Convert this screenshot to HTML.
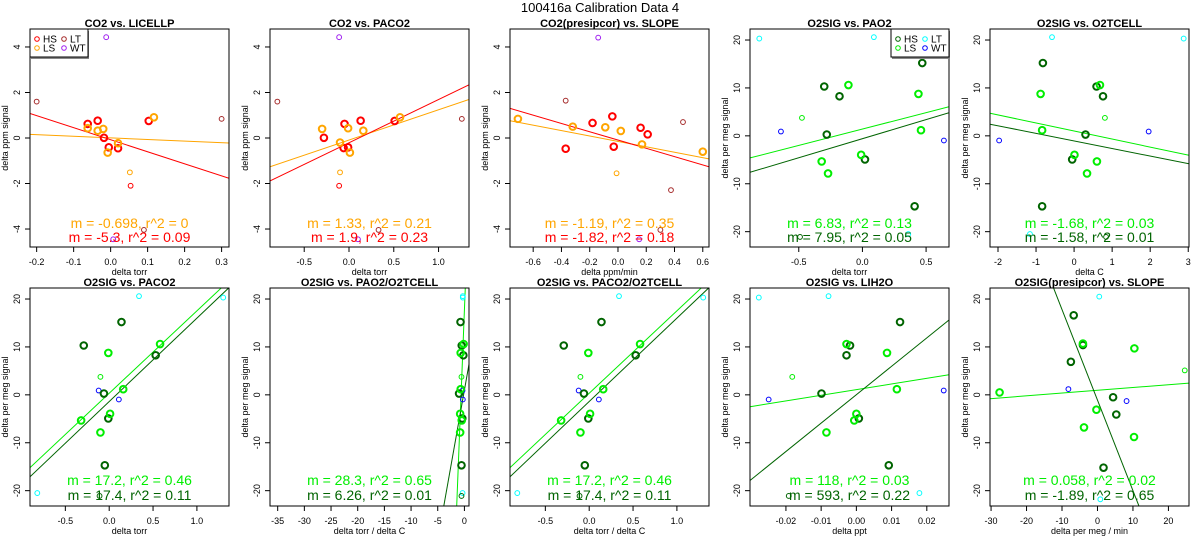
<!DOCTYPE html>
<html><head><meta charset="utf-8"><style>
html,body{margin:0;padding:0;background:#fff;width:1200px;height:550px;overflow:hidden;}
svg{display:block;font-family:"Liberation Sans",sans-serif;position:absolute;left:0;top:0;}
</style></head><body>
<svg id="chart" width="1200" height="550" viewBox="0 0 1200 550">
<text x="600" y="12" text-anchor="middle" font-size="13">100416a   Calibration Data 4</text>
</svg>
<script>
// ---------- shared O2SIG values ----------
const o2HsY=[10.3,8.26,0.27,-4.93,-14.7,15.2];
const o2LsY=[10.6,8.75,-5.35,-7.85,-3.96,1.18];
const o2ThinY=[3.75,20.3,20.6,-20.5,-21.1,0.9,-0.97];
const o2ThinG=['LS','LT','LT','LT','HS','WT','WT'];
const co2ThinG=['HS','LS','LT','LT','LT','WT','WT'];
const co2ThinY=[-2.10,-1.51,1.60,0.84,-4.04,4.43,-4.45];
// ---------- panel 1 CO2 vs LICELLP ----------
const p1HsX=[-0.062,-0.035,-0.018,-0.005,0.020,0.103];
const p1HsY=[0.62,0.76,0.01,-0.41,-0.45,0.75];
const p1LsX=[-0.062,-0.035,-0.02,-0.008,0.020,0.117];
const p1LsY=[0.43,0.32,0.40,-0.64,-0.23,0.91];
const p1ThinX=[0.054,0.052,-0.2,0.30,0.09,-0.012,0.007];
const p1Slopes=[-0.698,-5.3];const p1Ints=[0.006,-0.076];const p1R2=[0,0.09];
const p1Ticks=[-0.2,-0.1,0,0.1,0.2,0.3];const p1TickLabels=['-0.2','-0.1','0.0','0.1','0.2','0.3'];
// ---------- panel 2 CO2 vs PACO2 ----------
const p2HsX=[-0.28,-0.05,-0.06,-0.01,0.13,0.51];
const p2HsY=[0.01,0.62,-0.44,-0.41,0.76,0.75];
const p2LsX=[-0.30,-0.10,-0.01,0.01,0.16,0.57];
const p2LsY=[0.40,-0.20,0.43,-0.64,0.32,0.91];
const p2ThinX=[-0.11,-0.10,-0.80,1.26,0.33,-0.11,0.10];
const p2Slopes=[1.33,1.9];const p2Ints=[-0.09,-0.21];const p2R2=[0.21,0.23];
const p2Ticks=[-0.5,0,0.5,1.0];const p2TickLabels=['-0.5','0.0','0.5','1.0'];
// ---------- panel 3 CO2(presipcor) vs SLOPE ----------
const p3HsX=[-0.37,-0.18,-0.04,-0.03,0.16,0.21];
const p3HsY=[-0.47,0.66,0.95,-0.38,0.45,0.16];
const p3LsX=[-0.708,-0.32,-0.09,0.02,0.17,0.60];
const p3LsY=[0.84,0.50,0.47,0.31,-0.28,-0.60];
const p3ThinX=[-0.01,-0.37,0.46,0.375,0.30,-0.14,0.15];
const p3ThinY=[-1.55,1.64,0.70,-2.29,-4.04,4.41,-4.45];
const p3ThinG=['LS','LT','LT','LT','LT','WT','WT'];
const p3Slopes=[-1.19,-1.82];const p3Ints=[-0.15,-0.09];const p3R2=[0.35,0.18];
const p3Ticks=[-0.6,-0.4,-0.2,0,0.2,0.4,0.6];const p3TickLabels=['-0.6','-0.4','-0.2','0.0','0.2','0.4','0.6'];
// ---------- panel 4 O2SIG vs PAO2 ----------
const p4HsX=[-0.30,-0.18,-0.28,0.02,0.41,0.47];
const p4LsX=[-0.11,0.44,-0.32,-0.27,-0.01,0.46];
const p4ThinX=[-0.475,-0.81,0.09,0.36,-0.49,-0.64,0.64];
const p4Slopes=[6.83,7.95];const p4Ints=[1.42,-0.59];const p4R2=[0.13,0.05];
const p4Ticks=[-0.5,0,0.5];const p4TickLabels=['-0.5','0.0','0.5'];
// ---------- panel 5 O2SIG vs O2TCELL ----------
const p5HsX=[0.59,0.76,0.30,-0.05,-0.84,-0.82];
const p5LsX=[0.68,-0.88,0.60,0.34,0.01,-0.84];
const p5ThinX=[0.81,2.88,-0.58,-1.16,0.84,1.96,-1.97];
const p5Slopes=[-1.68,-1.58];const p5Ints=[1.01,-1.06];const p5R2=[0.03,0.01];
const p5Ticks=[-2,-1,0,1,2,3];const p5TickLabels=['-2','-1','0','1','2','3'];
// ---------- panel 6 O2SIG vs PACO2 ----------
const p6HsX=[-0.29,0.53,-0.06,-0.01,-0.05,0.14];
const p6LsX=[0.58,-0.01,-0.32,-0.10,0.01,0.16];
const p6ThinX=[-0.10,1.30,0.34,-0.82,-0.11,-0.12,0.11];
const p6Slopes=[17.2,17.4];const p6Ints=[0.33,-1.39];const p6R2=[0.46,0.11];
const p6Ticks=[-0.5,0,0.5,1.0];const p6TickLabels=['-0.5','0.0','0.5','1.0'];
// ---------- panel 7 O2SIG vs PAO2/O2TCELL ----------
const p7HsX=[-0.5,-0.2,-1.0,-0.4,-0.55,-0.73];
const p7LsX=[-0.15,-0.7,-0.5,-0.8,-0.8,-0.7];
const p7ThinX=[-0.55,-0.3,-0.3,-0.35,-0.55,-0.35,-0.3];
const p7Slopes=[28.3,6.26];const p7Ints=[17.7,1.0];const p7R2=[0.65,0.01];
const p7Ticks=[-35,-30,-25,-20,-15,-10,-5,0];const p7TickLabels=['-35','-30','-25','-20','-15','-10','-5','0'];
// ---------- panel 8 O2SIG vs PACO2/O2TCELL ----------
const p8HsX=[-0.29,0.53,-0.06,-0.01,-0.05,0.14];
const p8LsX=[0.58,-0.01,-0.32,-0.10,0.01,0.16];
const p8ThinX=[-0.10,1.30,0.34,-0.82,-0.11,-0.12,0.11];
const p8Slopes=[17.2,17.4];const p8Ints=[0.33,-1.39];const p8R2=[0.46,0.11];
const p8Ticks=[-0.5,0,0.5,1.0];const p8TickLabels=['-0.5','0.0','0.5','1.0'];
// ---------- panel 9 O2SIG vs LIH2O ----------
const p9HsX=[-0.0018,-0.0028,-0.0099,0.0007,0.0092,0.0124];
const p9LsX=[-0.0028,0.0087,-0.0006,-0.0085,0.0,0.0115];
const p9ThinX=[-0.0182,-0.0277,-0.0079,0.0179,-0.0192,0.0248,-0.0249];
const p9Slopes=[118,593];const p9Ints=[1.09,0.03];const p9R2=[0.03,0.22];
const p9Ticks=[-0.02,-0.01,0,0.01,0.02];const p9TickLabels=['-0.02','-0.01','0.00','0.01','0.02'];
// ---------- panel 10 O2SIG(presipcor) vs SLOPE ----------
const p10HsX=[-6.7,-4.1,-7.5,4.4,5.3,1.7];
const p10HsY=[16.6,10.4,6.9,-0.5,-4.1,-15.2];
const p10LsX=[-27.6,-4.1,10.4,-0.3,-3.8,10.3];
const p10LsY=[0.5,10.7,9.7,-3.1,-6.8,-8.8];
const p10ThinX=[24.6,0.5,0.8,-8.2,8.2];
const p10ThinY=[5.1,20.5,-21.8,1.2,-1.3];
const p10ThinG=['LS','LT','LT','WT','WT'];
const p10Slopes=[0.058,-1.89];const p10Ints=[0.95,-1.1];const p10R2=[0.02,0.65];
const p10Ticks=[-30,-20,-10,0,10,20];const p10TickLabels=['-30','-20','-10','0','10','20'];

const co2Yt=[-4,-2,0,2,4];const o2Yt=[-20,-10,0,10,20];
const CO2C={HS:'#ff0000',LS:'#ffa500',LT:'#a52a2a',WT:'#a020f0'};
const O2C={HS:'#006400',LS:'#00ee00',LT:'#00ffff',WT:'#0000ff'};
const NS='http://www.w3.org/2000/svg';
const svg=document.getElementById('chart');
function mk(tag,attrs,parent){const e=document.createElementNS(NS,tag);for(const k in attrs)e.setAttribute(k,attrs[k]);(parent||svg).appendChild(e);return e;}

const panels=[
 {t:'CO2 vs. LICELLP',xl:'delta torr',yl:'delta ppm signal',xlim:[-0.218,0.32],ylim:[-4.79,4.79],yt:co2Yt,xt:p1Ticks,xtl:p1TickLabels,hx:p1HsX,hy:p1HsY,lx:p1LsX,ly:p1LsY,tx:p1ThinX,ty:co2ThinY,tg:co2ThinG,s:p1Slopes,b:p1Ints,r:p1R2,c:CO2C,leg:'left'},
 {t:'CO2 vs. PACO2',xl:'delta torr',yl:'delta ppm signal',xlim:[-0.882,1.34],ylim:[-4.79,4.79],yt:co2Yt,xt:p2Ticks,xtl:p2TickLabels,hx:p2HsX,hy:p2HsY,lx:p2LsX,ly:p2LsY,tx:p2ThinX,ty:co2ThinY,tg:co2ThinG,s:p2Slopes,b:p2Ints,r:p2R2,c:CO2C},
 {t:'CO2(presipcor) vs. SLOPE',xl:'delta ppm/min',yl:'delta ppm signal',xlim:[-0.764,0.644],ylim:[-4.79,4.79],yt:co2Yt,xt:p3Ticks,xtl:p3TickLabels,hx:p3HsX,hy:p3HsY,lx:p3LsX,ly:p3LsY,tx:p3ThinX,ty:p3ThinY,tg:p3ThinG,s:p3Slopes,b:p3Ints,r:p3R2,c:CO2C},
 {t:'O2SIG vs. PAO2',xl:'delta torr',yl:'delta per meg signal',xlim:[-0.883,0.68],ylim:[-23.2,22.3],yt:o2Yt,xt:p4Ticks,xtl:p4TickLabels,hx:p4HsX,hy:o2HsY,lx:p4LsX,ly:o2LsY,tx:p4ThinX,ty:o2ThinY,tg:o2ThinG,s:p4Slopes,b:p4Ints,r:p4R2,c:O2C,leg:'right'},
 {t:'O2SIG vs. O2TCELL',xl:'delta C',yl:'delta per meg signal',xlim:[-2.21,3.02],ylim:[-23.2,22.3],yt:o2Yt,xt:p5Ticks,xtl:p5TickLabels,hx:p5HsX,hy:o2HsY,lx:p5LsX,ly:o2LsY,tx:p5ThinX,ty:o2ThinY,tg:o2ThinG,s:p5Slopes,b:p5Ints,r:p5R2,c:O2C},
 {t:'O2SIG vs. PACO2',xl:'delta torr',yl:'delta per meg signal',xlim:[-0.903,1.366],ylim:[-23.2,22.3],yt:o2Yt,xt:p6Ticks,xtl:p6TickLabels,hx:p6HsX,hy:o2HsY,lx:p6LsX,ly:o2LsY,tx:p6ThinX,ty:o2ThinY,tg:o2ThinG,s:p6Slopes,b:p6Ints,r:p6R2,c:O2C},
 {t:'O2SIG vs. PAO2/O2TCELL',xl:'delta torr / delta C',yl:'delta per meg signal',xlim:[-36.44,0.86],ylim:[-23.2,22.3],yt:o2Yt,xt:p7Ticks,xtl:p7TickLabels,hx:p7HsX,hy:o2HsY,lx:p7LsX,ly:o2LsY,tx:p7ThinX,ty:o2ThinY,tg:o2ThinG,s:p7Slopes,b:p7Ints,r:p7R2,c:O2C},
 {t:'O2SIG vs. PACO2/O2TCELL',xl:'delta torr / delta C',yl:'delta per meg signal',xlim:[-0.903,1.366],ylim:[-23.2,22.3],yt:o2Yt,xt:p8Ticks,xtl:p8TickLabels,hx:p8HsX,hy:o2HsY,lx:p8LsX,ly:o2LsY,tx:p8ThinX,ty:o2ThinY,tg:o2ThinG,s:p8Slopes,b:p8Ints,r:p8R2,c:O2C},
 {t:'O2SIG vs. LIH2O',xl:'delta ppt',yl:'delta per meg signal',xlim:[-0.0302,0.0263],ylim:[-23.2,22.3],yt:o2Yt,xt:p9Ticks,xtl:p9TickLabels,hx:p9HsX,hy:o2HsY,lx:p9LsX,ly:o2LsY,tx:p9ThinX,ty:o2ThinY,tg:o2ThinG,s:p9Slopes,b:p9Ints,r:p9R2,c:O2C},
 {t:'O2SIG(presipcor) vs. SLOPE',xl:'delta per meg / min',yl:'delta per meg signal',xlim:[-30.3,25.8],ylim:[-23.2,22.3],yt:o2Yt,xt:p10Ticks,xtl:p10TickLabels,hx:p10HsX,hy:p10HsY,lx:p10LsX,ly:p10LsY,tx:p10ThinX,ty:p10ThinY,tg:p10ThinG,s:p10Slopes,b:p10Ints,r:p10R2,c:O2C}
];

panels.forEach((p,i)=>{
 const col=i%5,row=Math.floor(i/5);
 const x0=30+240*col,x1=229+240*col;
 const y0=row?288:29,y1=row?506:247;
 const X=v=>x0+(v-p.xlim[0])/(p.xlim[1]-p.xlim[0])*(x1-x0);
 const Y=v=>y1-(v-p.ylim[0])/(p.ylim[1]-p.ylim[0])*(y1-y0);
 const g=mk('g',{});
 
 
 const cid='clip'+i;
 const cp=mk('clipPath',{id:cid},g);mk('rect',{x:x0,y:y0,width:x1-x0,height:y1-y0},cp);
 const title=mk('text',{x:(x0+x1)/2,y:row?286:27,'text-anchor':'middle','font-size':11,'font-weight':'bold'},g);
 title.textContent=p.t;
 
 
 const xa=mk('g',{},g);
 
 
 p.xt.forEach((v,k)=>{
  const px=X(v);
  mk('line',{x1:px,x2:px,y1:y1,y2:y1+5,stroke:'#000','stroke-width':1},xa);
  const tl=mk('text',{x:px,y:y1+18,'text-anchor':'middle','font-size':9},xa);
  tl.textContent=p.xtl[k];
  
  
 });
 const xl=mk('text',{x:(x0+x1)/2,y:y1+28,'text-anchor':'middle','font-size':9},g);
 xl.textContent=p.xl;
 
 
 const ya=mk('g',{},g);
 
 
 p.yt.forEach(v=>{
  const py=Y(v);
  mk('line',{x1:x0-5,x2:x0,y1:py,y2:py,stroke:'#000','stroke-width':1},ya);
  const tl=mk('text',{x:0,y:0,'text-anchor':'middle','font-size':9,transform:`translate(${x0-10},${py}) rotate(-90)`},ya);
  tl.textContent=String(v);
  
  
 });
 const yl=mk('text',{x:0,y:0,'text-anchor':'middle','font-size':9,transform:`translate(${x0-22},${(y0+y1)/2}) rotate(-90)`},g);
 yl.textContent=p.yl;
 
 
 const cols=[p.c.LS,p.c.HS];const names=['ls','hs'];
 p.s.forEach((m,k)=>{
  const xa0=p.xlim[0],xa1=p.xlim[1];
  const ln=mk('line',{x1:X(xa0),y1:Y(m*xa0+p.b[k]),x2:X(xa1),y2:Y(m*xa1+p.b[k]),stroke:cols[k],'stroke-width':1,'clip-path':`url(#${cid})`},g);
  
  
 });
 const pts=mk('g',{'clip-path':`url(#${cid})`},g);
 
 
 p.tx.forEach((v,k)=>{
  const c=mk('circle',{cx:X(v),cy:Y(p.ty[k]),r:2.4,fill:'none',stroke:p.c[p.tg[k]],'stroke-width':1},pts);
  
  
 });
 p.hx.forEach((v,k)=>{
  const c=mk('circle',{cx:X(v),cy:Y(p.hy[k]),r:3.3,fill:'none',stroke:p.c.HS,'stroke-width':2},pts);
  
  
 });
 p.lx.forEach((v,k)=>{
  const c=mk('circle',{cx:X(v),cy:Y(p.ly[k]),r:3.3,fill:'none',stroke:p.c.LS,'stroke-width':2},pts);
  
  
 });
 const ay=row?[485,500]:[228,242];
 [0,1].forEach(k=>{
  const t=mk('text',{x:(x0+x1)/2,y:ay[k],'text-anchor':'middle','font-size':14,fill:cols[k]},g);
  t.textContent=`m = ${p.s[k]}, r^2 = ${p.r[k]}`;
  
  
 });
 const bx=mk('rect',{x:x0,y:y0,width:x1-x0,height:y1-y0,fill:'none',stroke:'#000','stroke-width':1},g);
 
 
 if(p.leg){
  const lx0=p.leg==='left'?x0:x1-58;
  const lg=mk('g',{},g);
  
  
  mk('rect',{x:lx0+1,y:y0+2,width:58,height:28,fill:'#888'},lg);
  mk('rect',{x:lx0,y:y0,width:58,height:28,fill:'#fff',stroke:'#000','stroke-width':1},lg);
  [['HS',0,0],['LS',0,1],['LT',1,0],['WT',1,1]].forEach(([n,cx,cy])=>{
   const ex=lx0+7+cx*27,ey=y0+10+cy*9;
   const e=mk('g',{},lg);
   
   
   mk('circle',{cx:ex,cy:ey,r:2.3,fill:'none',stroke:p.c[n],'stroke-width':1},e);
   const tt=mk('text',{x:ex+6,y:ey+3.5,'font-size':10},e);
   tt.textContent=n;
  });
 }
});
</script>
</body></html>
